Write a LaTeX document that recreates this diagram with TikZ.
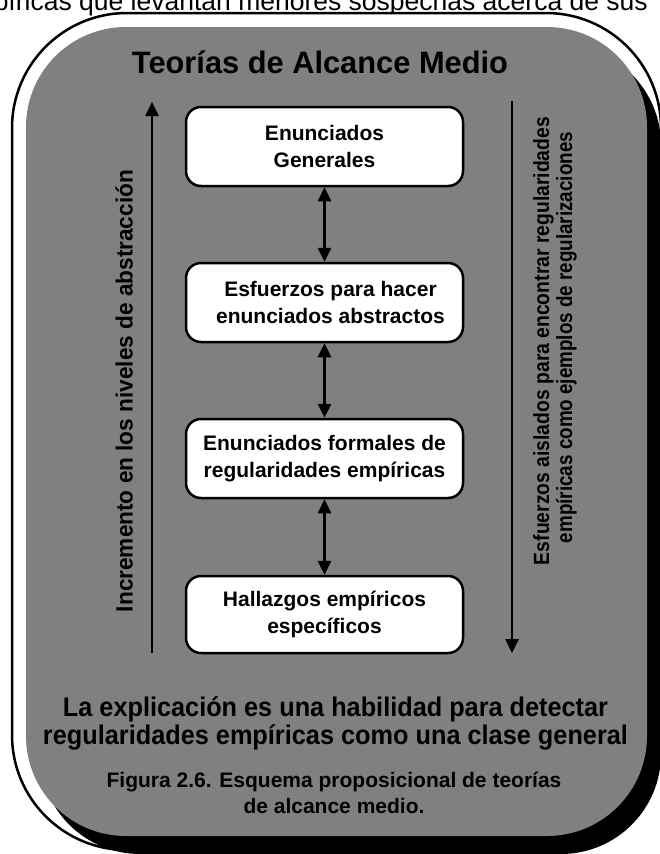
\documentclass[tikz,border=0pt]{standalone}
\usepackage{fontspec}
\setmainfont{Liberation Sans}
\usetikzlibrary{arrows.meta}
\definecolor{panelgray}{RGB}{128,128,128}
\newcommand{\fitw}[2]{\resizebox{#1}{\height}{#2}}
\begin{document}
\begin{tikzpicture}[x=1pt,y=-1pt,
  stepbox/.style={draw=black, line width=2.5pt, fill=white, rounded corners=15pt,
    minimum width=277pt, minimum height=79pt, inner sep=0pt, align=center,
    font=\fontsize{21pt}{27.5pt}\selectfont\bfseries},
  vline/.style={line width=2.5pt, -{Triangle[width=13pt,length=14pt]}},
  dline/.style={line width=3pt, {Triangle[width=13pt,length=14pt]}-{Triangle[width=13pt,length=14pt]}},
  vtext/.style={rotate=90, anchor=base, inner sep=0pt},
  ]
\useasboundingbox (0,0) rectangle (660,854);
\clip (0,0) rectangle (660,854);
\fill[white] (0,0) rectangle (660,854);
% running text above
\node[anchor=base east, inner sep=0pt, font=\fontsize{26.5pt}{30pt}\selectfont] (toptext) at (648,10) {píricas que levantan menores sospechas acerca de sus};
% frame, shadow and panel
\draw[line width=2.5pt, fill=white, rounded corners=115pt] (12,13) rectangle (661,850);
\fill[black, rounded corners=100pt] (40,45) rectangle (661,854);
\fill[panelgray, rounded corners=100pt] (26,27) rectangle (647,836);
% title
\node[anchor=base, inner sep=0pt, font=\fontsize{31pt}{34pt}\selectfont\bfseries] (title) at (320,73) {\fitw{376pt}{Teorías de Alcance Medio}};
% boxes
\node[stepbox] (b1) at (324.5,146.5) {Enunciados\\Generales};
\node[stepbox] (b2) at (324.5,302.5) {\hspace*{12pt}Esfuerzos para hacer\\\hspace*{12pt}enunciados abstractos};
\node[stepbox] (b3) at (324.5,458.5) {Enunciados formales de\\regularidades empíricas};
\node[stepbox, minimum height=77pt] (b4) at (324.5,614.5) {Hallazgos empíricos\\específicos};
\draw[dline] (b1) -- (b2);
\draw[dline] (b2) -- (b3);
\draw[dline] (b3) -- (b4);
% side arrows
\coordinate (l0) at (152,653);
\coordinate (l1) at (152,102);
\draw[vline] (l0) -- (l1);
\coordinate (r0) at (512,101);
\coordinate (r1) at (512,653);
\draw[vline] (r0) -- (r1);
% side texts
\node[vtext, font=\fontsize{23.5pt}{26pt}\selectfont\bfseries] (ltext) at (132.5,391) {\fitw{442pt}{Incremento en los niveles de abstracción}};
\node[vtext, font=\fontsize{22pt}{24pt}\selectfont\bfseries] (rtext1) at (549,341) {\fitw{448pt}{Esfuerzos aislados para encontrar regularidades}};
\node[vtext, font=\fontsize{22pt}{24pt}\selectfont\bfseries] (rtext2) at (572,337.5) {\fitw{411pt}{empíricas como ejemplos de regularizaciones}};
% bottom statement
\node[anchor=base, inner sep=0pt, font=\fontsize{27pt}{30pt}\selectfont\bfseries] (s1) at (335.5,716) {\fitw{545pt}{La explicación es una habilidad para detectar}};
\node[anchor=base, inner sep=0pt, font=\fontsize{27pt}{30pt}\selectfont\bfseries] (s2) at (335.5,744) {\fitw{585pt}{regularidades empíricas como una clase general}};
% caption
\node[anchor=base, inner sep=0pt, font=\fontsize{21pt}{25pt}\selectfont\bfseries] (c1) at (334,787.5) {Figura 2.6. Esquema proposicional de teorías};
\node[anchor=base, inner sep=0pt, font=\fontsize{21pt}{25pt}\selectfont\bfseries] (c2) at (334,813) {de alcance medio.};
\end{tikzpicture}
\end{document}
